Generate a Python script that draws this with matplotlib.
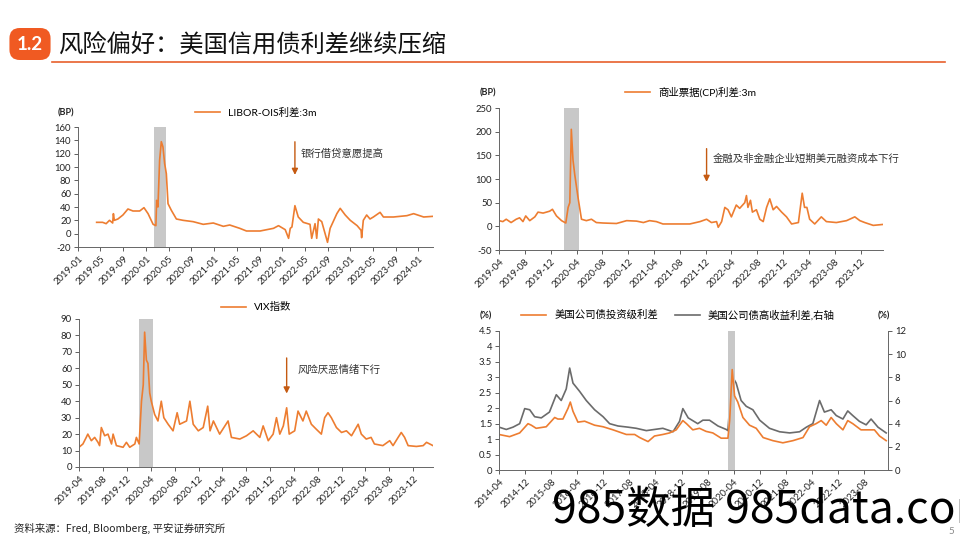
import matplotlib
matplotlib.use('Agg')
import matplotlib.pyplot as plt
import matplotlib.dates as mdates
from matplotlib.lines import Line2D
from matplotlib.ticker import MultipleLocator, FuncFormatter
import pandas as pd

plt.rcParams['font.family'] = ['Lato', 'Noto Sans CJK SC']
plt.rcParams['axes.unicode_minus'] = False

ORANGE = '#ED7D31'
GRAY = '#6B6B6B'
SHADE = '#C8C8C8'
ARROW = '#C55A11'
CJK = ['Noto Sans CJK SC', 'DejaVu Sans']

# === DATA ===
libor_dates = ['2019-04-11', '2019-05-13', '2019-06-01', '2019-06-19', '2019-07-06', '2019-07-10',
               '2019-07-15', '2019-08-03', '2019-08-30', '2019-09-26', '2019-10-23', '2019-11-28',
               '2019-12-21', '2020-01-12', '2020-02-08', '2020-02-23', '2020-02-27', '2020-03-05',
               '2020-03-14', '2020-03-23', '2020-04-01', '2020-04-10', '2020-04-19', '2020-04-28',
               '2020-05-16', '2020-06-12', '2020-07-18', '2020-09-10', '2020-11-03', '2020-12-27',
               '2021-02-19', '2021-03-25', '2021-05-18', '2021-06-23', '2021-09-04', '2021-11-15',
               '2021-12-12', '2022-01-17', '2022-02-04', '2022-02-13', '2022-02-22', '2022-03-10',
               '2022-03-28', '2022-04-24', '2022-05-30', '2022-06-08', '2022-06-26', '2022-07-05',
               '2022-07-14', '2022-08-01', '2022-09-01', '2022-09-15', '2022-10-21', '2022-11-08',
               '2022-12-05', '2023-01-01', '2023-02-07', '2023-02-28', '2023-03-03', '2023-03-12',
               '2023-03-30', '2023-04-17', '2023-05-05', '2023-06-10', '2023-06-28', '2023-08-21',
               '2023-11-01', '2023-12-07', '2024-01-30', '2024-03-20']
libor_vals = [17, 17, 15, 20, 16, 30, 20, 22, 28, 37, 34, 34,
              39, 30, 14, 12, 50, 40, 110, 138, 130, 105, 90, 45,
              35, 22, 20, 18, 14, 16, 11, 13, 8, 4, 4, 8,
              12, 6, -7, 8, 10, 42, 25, 17, 14, -7, 15, -7,
              22, 18, -13, 8, 30, 38, 28, 20, 12, 5, -6, 20,
              28, 22, 25, 32, 25, 25, 27, 30, 25, 26]

cp_dates = ['2019-04-01', '2019-04-19', '2019-05-05', '2019-05-28', '2019-06-21', '2019-07-07',
            '2019-07-23', '2019-08-05', '2019-08-24', '2019-09-17', '2019-10-02', '2019-10-26',
            '2019-11-26', '2019-12-09', '2019-12-28', '2020-01-21', '2020-02-10', '2020-02-21',
            '2020-02-29', '2020-03-07', '2020-03-15', '2020-03-23', '2020-03-31', '2020-04-08',
            '2020-04-24', '2020-05-17', '2020-06-10', '2020-07-03', '2020-08-04', '2020-10-06',
            '2020-11-23', '2021-01-09', '2021-02-10', '2021-03-11', '2021-04-12', '2021-05-13',
            '2021-07-15', '2021-09-17', '2021-11-04', '2021-12-05', '2021-12-28', '2022-01-21',
            '2022-01-29', '2022-02-14', '2022-03-01', '2022-03-16', '2022-04-01', '2022-04-24',
            '2022-05-10', '2022-06-03', '2022-06-11', '2022-06-18', '2022-06-30', '2022-07-09',
            '2022-07-28', '2022-08-13', '2022-08-29', '2022-09-14', '2022-09-29', '2022-10-15',
            '2022-10-31', '2022-11-24', '2022-12-17', '2023-01-10', '2023-02-11', '2023-03-01',
            '2023-03-12', '2023-03-23', '2023-04-05', '2023-04-29', '2023-05-30', '2023-06-23',
            '2023-08-09', '2023-09-26', '2023-11-04', '2023-11-28', '2023-12-21', '2024-01-30',
            '2024-03-16']
cp_vals = [12, 10, 15, 8, 15, 18, 10, 22, 12, 20, 30, 28,
           32, 36, 22, 12, 7, 40, 50, 205, 140, 110, 85, 60,
           15, 12, 15, 8, 7, 6, 12, 11, 8, 12, 10, 5,
           5, 5, 10, 15, 8, 10, -2, 10, 40, 35, 20, 45,
           38, 50, 65, 40, 55, 30, 35, 15, 10, 40, 58, 35,
           42, 30, 20, 5, 8, 70, 40, 40, 15, 5, 20, 10,
           8, 12, 20, 12, 8, 2, 4]

vix_dates = ['2019-04-01', '2019-04-21', '2019-05-08', '2019-05-16', '2019-06-03', '2019-06-20',
             '2019-07-07', '2019-07-15', '2019-07-24', '2019-08-10', '2019-08-27', '2019-09-14',
             '2019-09-22', '2019-10-09', '2019-11-12', '2019-11-29', '2019-12-16', '2020-01-11',
             '2020-01-19', '2020-02-02', '2020-02-14', '2020-02-23', '2020-03-01', '2020-03-10',
             '2020-03-18', '2020-03-27', '2020-04-04', '2020-04-21', '2020-05-08', '2020-05-25',
             '2020-06-07', '2020-06-29', '2020-07-24', '2020-08-14', '2020-08-27', '2020-10-01',
             '2020-10-18', '2020-11-04', '2020-11-30', '2020-12-25', '2021-01-17', '2021-01-29',
             '2021-02-15', '2021-03-19', '2021-05-01', '2021-05-18', '2021-06-30', '2021-08-03',
             '2021-09-06', '2021-10-10', '2021-10-27', '2021-11-22', '2021-12-17', '2022-01-03',
             '2022-01-20', '2022-02-07', '2022-02-24', '2022-03-09', '2022-04-06', '2022-04-23',
             '2022-05-18', '2022-06-04', '2022-06-30', '2022-07-25', '2022-08-20', '2022-09-06',
             '2022-09-23', '2022-10-10', '2022-11-05', '2022-12-01', '2022-12-26', '2023-01-21',
             '2023-02-24', '2023-03-12', '2023-04-06', '2023-05-01', '2023-05-18', '2023-06-30',
             '2023-08-04', '2023-08-21', '2023-09-16', '2023-10-02', '2023-10-19', '2023-11-06',
             '2023-12-18', '2024-01-22', '2024-02-08', '2024-03-12']
vix_vals = [12, 14, 18, 20, 16, 18, 15, 13, 24, 19, 20, 14,
            20, 13, 12, 15, 12, 14, 18, 14, 40, 50, 82, 65,
            63, 45, 40, 32, 28, 40, 30, 26, 22, 33, 26, 28,
            40, 26, 22, 24, 37, 22, 28, 20, 28, 18, 17, 19,
            22, 18, 25, 16, 20, 30, 20, 25, 36, 20, 22, 34,
            28, 34, 26, 23, 20, 30, 33, 30, 24, 21, 22, 19,
            26, 20, 17, 18, 14, 13, 16, 13, 18, 21, 18, 13,
            12.5, 13, 15, 13]

ig_dates = ['2014-04-01', '2014-07-09', '2014-10-11', '2014-12-28', '2015-01-28', '2015-03-14',
            '2015-06-16', '2015-09-03', '2015-10-03', '2015-11-19', '2016-01-06', '2016-01-27',
            '2016-02-21', '2016-04-07', '2016-06-09', '2016-09-10', '2016-11-28', '2017-03-01',
            '2017-07-03', '2017-09-19', '2017-11-05', '2018-01-22', '2018-03-23', '2018-06-09',
            '2018-08-11', '2018-10-12', '2018-12-13', '2019-01-16', '2019-03-16', '2019-05-17',
            '2019-07-18', '2019-09-19', '2019-12-06', '2020-02-07', '2020-02-23', '2020-03-18',
            '2020-04-09', '2020-05-09', '2020-06-26', '2020-08-27', '2020-10-28', '2021-01-01',
            '2021-04-02', '2021-07-04', '2021-10-06', '2022-01-08', '2022-03-10', '2022-05-10',
            '2022-06-27', '2022-08-13', '2022-09-28', '2022-11-15', '2023-01-16', '2023-03-02',
            '2023-04-18', '2023-07-04', '2023-09-21', '2023-11-06', '2023-12-24', '2024-02-24']
ig_vals = [1.15, 1.08, 1.2, 1.5, 1.45, 1.35, 1.4, 1.7, 1.65, 1.65, 2.0, 2.2,
           1.9, 1.55, 1.58, 1.45, 1.4, 1.3, 1.15, 1.15, 1.05, 0.92, 1.1, 1.15,
           1.2, 1.3, 1.6, 1.5, 1.3, 1.35, 1.25, 1.2, 1.03, 1.03, 1.6, 3.25,
           2.4, 2.2, 1.7, 1.45, 1.35, 1.05, 0.95, 0.88, 0.95, 1.05, 1.4, 1.5,
           1.6, 1.45, 1.7, 1.5, 1.3, 1.6, 1.5, 1.3, 1.3, 1.3, 1.1, 0.95]

hy_dates = ['2014-04-01', '2014-06-08', '2014-08-10', '2014-10-11', '2014-11-27', '2015-01-13',
            '2015-02-28', '2015-05-01', '2015-07-16', '2015-09-18', '2015-11-03', '2015-12-20',
            '2016-01-21', '2016-02-21', '2016-04-22', '2016-06-24', '2016-09-10', '2016-11-28',
            '2017-01-28', '2017-04-16', '2017-07-18', '2017-10-04', '2018-01-06', '2018-03-23',
            '2018-06-09', '2018-09-12', '2018-11-12', '2018-12-13', '2019-02-01', '2019-05-01',
            '2019-06-18', '2019-08-19', '2019-11-06', '2020-01-22', '2020-02-07', '2020-02-23',
            '2020-03-03', '2020-03-24', '2020-04-24', '2020-06-09', '2020-07-27', '2020-09-27',
            '2020-11-30', '2021-03-01', '2021-06-04', '2021-09-06', '2021-12-07', '2022-02-09',
            '2022-04-10', '2022-06-12', '2022-07-27', '2022-09-28', '2022-11-15', '2023-01-16',
            '2023-03-02', '2023-04-18', '2023-06-19', '2023-08-21', '2023-10-06', '2023-12-09',
            '2024-02-24']
hy_vals = [3.7, 3.5, 3.7, 4.0, 5.3, 5.2, 4.6, 4.5, 5.0, 6.5, 6.0, 7.0,
           8.8, 7.5, 6.8, 6.0, 5.2, 4.6, 4.0, 3.8, 3.7, 3.6, 3.4, 3.5,
           3.6, 3.3, 4.2, 5.3, 4.5, 4.0, 4.3, 4.3, 3.8, 3.5, 3.4, 5.5,
           10.8, 8.0, 7.5, 6.0, 5.5, 5.2, 4.3, 3.6, 3.3, 3.2, 3.3, 3.7,
           4.0, 6.0, 5.0, 5.2, 4.7, 4.4, 5.1, 4.7, 4.2, 3.9, 4.4, 3.7,
           3.2]

# shaded covid window per chart
band1 = ('2020-02-12', '2020-04-15')
band_short = ('2020-02-03', '2020-04-12')


def px(x, y):
    # pixel position on the 960x540 page -> figure fraction
    return x / 960, 1 - y / 540


def style_axis(ax, xlim, ticks, band):
    ax.set_xlim(pd.Timestamp(xlim[0]), pd.Timestamp(xlim[1]))
    ax.set_xticks(ticks)
    ax.xaxis.set_major_formatter(mdates.DateFormatter('%Y-%m'))
    for lab in ax.get_xticklabels():
        lab.set_rotation(45)
        lab.set_ha('right')
        lab.set_rotation_mode('anchor')
    ax.tick_params(axis='both', labelsize=6.8, length=3, width=0.6, colors='#444444',
                   labelcolor='#222222', pad=2)
    for side in ['top', 'right']:
        ax.spines[side].set_visible(False)
    for side in ['left', 'bottom']:
        ax.spines[side].set_color('#666666')
        ax.spines[side].set_linewidth(0.7)
    ax.axvspan(pd.Timestamp(band[0]), pd.Timestamp(band[1]), color=SHADE, lw=0, zorder=0)


LEG_PROP = {'family': ['Lato', 'Noto Sans CJK SC'], 'size': 7.5}

fig = plt.figure(figsize=(9.6, 5.4), dpi=100)

# header
fig.text(*px(30, 44), '1.2', color='white', fontsize=13.5, fontweight='bold', ha='center', va='center',
         bbox=dict(boxstyle='round,pad=0.4,rounding_size=0.55', fc='#F05A22', ec='none'))
fig.text(*px(58, 46), '风险偏好：美国信用债利差继续压缩', fontsize=17.5, family=CJK, fontweight='medium',
         va='center', color='#111111')
fig.add_artist(Line2D([52 / 960, 945 / 960], [1 - 62 / 540] * 2, color='#E8602C', lw=1.2))

# --- chart 1: LIBOR-OIS ---
ax1 = fig.add_axes([78 / 960, 1 - 247 / 540, 355 / 960, 120 / 540])
ax1.plot(pd.to_datetime(libor_dates), libor_vals, color=ORANGE, lw=1.2, label='LIBOR-OIS利差:3m')
ax1.set_ylim(-20, 160)
ax1.yaxis.set_major_locator(MultipleLocator(20))
style_axis(ax1, ('2019-01-01', '2024-03-20'),
           pd.date_range('2019-01-01', '2024-01-01', freq='4MS'), band1)
ax1.legend(loc='center', bbox_to_anchor=(0.5, 1.12), frameon=False, handlelength=2.4, prop=LEG_PROP)
fig.text(*px(58, 113), '(BP)', fontsize=6.5, va='center', fontweight='bold', color='#222222')
ax1.annotate('', xy=(pd.Timestamp('2022-03-10'), 84), xytext=(pd.Timestamp('2022-03-10'), 142),
             arrowprops=dict(arrowstyle='-|>', color=ARROW, lw=1.0, mutation_scale=9))
ax1.text(pd.Timestamp('2022-04-10'), 120, '银行借贷意愿提高', fontsize=7.5, family=CJK, color='#333333',
         va='center')

# --- chart 2: commercial paper ---
ax2 = fig.add_axes([499 / 960, 1 - 250 / 540, 384 / 960, 142 / 540])
ax2.plot(pd.to_datetime(cp_dates), cp_vals, color=ORANGE, lw=1.2, label='商业票据(CP)利差:3m')
ax2.set_ylim(-50, 250)
ax2.yaxis.set_major_locator(MultipleLocator(50))
style_axis(ax2, ('2019-04-01', '2024-03-16'),
           pd.date_range('2019-04-01', '2023-12-01', freq='4MS'), band_short)
ax2.legend(loc='center', bbox_to_anchor=(0.5, 1.11), frameon=False, handlelength=2.4, prop=LEG_PROP)
fig.text(*px(480, 93), '(BP)', fontsize=6.5, va='center', fontweight='bold', color='#222222')
ax2.annotate('', xy=(pd.Timestamp('2021-12-05'), 88), xytext=(pd.Timestamp('2021-12-05'), 170),
             arrowprops=dict(arrowstyle='-|>', color=ARROW, lw=1.0, mutation_scale=9))
ax2.text(pd.Timestamp('2022-01-05'), 142, '金融及非金融企业短期美元融资成本下行', fontsize=7.5, family=CJK,
         color='#333333', va='center')

# --- chart 3: VIX ---
ax3 = fig.add_axes([79 / 960, 1 - 467 / 540, 354 / 960, 148 / 540])
ax3.plot(pd.to_datetime(vix_dates), vix_vals, color=ORANGE, lw=1.2, label='VIX指数')
ax3.set_ylim(0, 90)
ax3.yaxis.set_major_locator(MultipleLocator(10))
style_axis(ax3, ('2019-04-01', '2024-03-12'),
           pd.date_range('2019-04-01', '2023-12-01', freq='4MS'), band_short)
ax3.legend(loc='center', bbox_to_anchor=(0.5, 1.08), frameon=False, handlelength=2.4, prop=LEG_PROP)
ax3.annotate('', xy=(pd.Timestamp('2022-02-24'), 43), xytext=(pd.Timestamp('2022-02-24'), 68),
             arrowprops=dict(arrowstyle='-|>', color=ARROW, lw=1.0, mutation_scale=9))
ax3.text(pd.Timestamp('2022-04-20'), 59, '风险厌恶情绪下行', fontsize=7.5, family=CJK, color='#333333',
         va='center')

# --- chart 4: corporate bond spreads ---
ax4 = fig.add_axes([499 / 960, 1 - 470 / 540, 389 / 960, 139 / 540])
ax4b = ax4.twinx()
l_hy, = ax4b.plot(pd.to_datetime(hy_dates), hy_vals, color=GRAY, lw=1.2, label='美国公司债高收益利差,右轴')
l_ig, = ax4.plot(pd.to_datetime(ig_dates), ig_vals, color=ORANGE, lw=1.2, label='美国公司债投资级利差')
ax4.set_zorder(ax4b.get_zorder() + 1)
ax4.patch.set_visible(False)
ax4.set_ylim(0, 4.5)
ax4.yaxis.set_major_locator(MultipleLocator(0.5))
ax4.yaxis.set_major_formatter(FuncFormatter(lambda v, p: f'{v:g}'))
ax4b.set_ylim(0, 12)
ax4b.yaxis.set_major_locator(MultipleLocator(2))
style_axis(ax4, ('2014-04-01', '2024-03-12'),
           pd.date_range('2014-04-01', '2023-08-01', freq='8MS'), ('2020-02-10', '2020-04-12'))
ax4b.set_xlim(ax4.get_xlim())
ax4b.tick_params(axis='y', labelsize=6.8, length=3, width=0.6, colors='#444444', labelcolor='#222222', pad=2)
for side in ['top', 'left', 'bottom']:
    ax4b.spines[side].set_visible(False)
ax4b.spines['right'].set_color('#666666')
ax4b.spines['right'].set_linewidth(0.7)
ax4.legend(handles=[l_ig, l_hy], loc='center', bbox_to_anchor=(0.46, 1.115), ncol=2, frameon=False,
           handlelength=2.4, columnspacing=1.6, prop=LEG_PROP)
fig.text(*px(480, 316), '(%)', fontsize=6.5, va='center', fontweight='bold', color='#222222')
fig.text(*px(878, 316), '(%)', fontsize=6.5, va='center', fontweight='bold', color='#222222')

# footer
fig.text(*px(14, 528), '资料来源：Fred, Bloomberg, 平安证券研究所', fontsize=7.5, family=CJK, va='center',
         color='#222222')
fig.text(*px(948, 531), '5', fontsize=7, va='center', color='#888888')
fig.text(*px(552, 510), '985数据 985data.com', fontsize=32, family=CJK, va='center', color='black')

plt.savefig('out.png', dpi=100)
plt.close()
